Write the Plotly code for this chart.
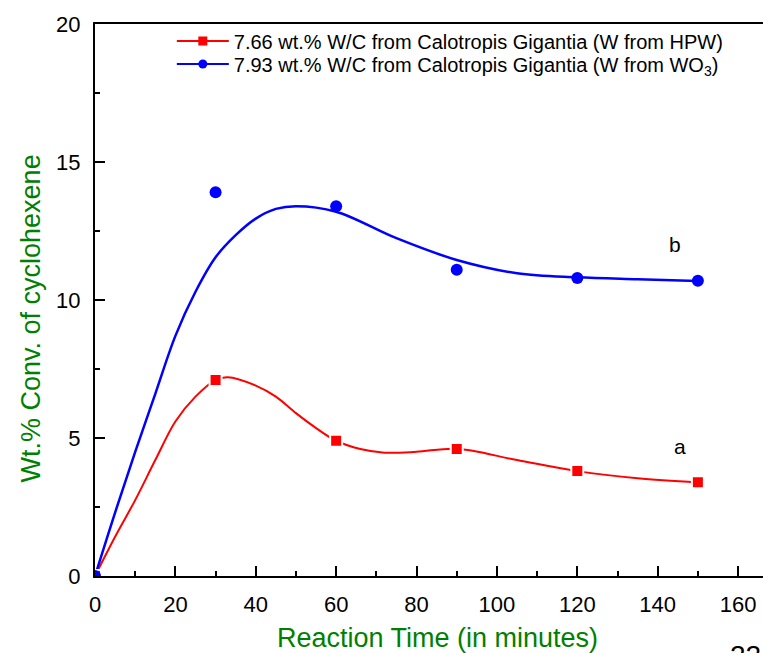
import plotly.graph_objects as go

# Measured points
time_pts = [0, 30, 60, 90, 120, 150]
hpw_conv = [0, 7.1, 4.9, 4.6, 3.8, 3.4]
wo3_conv = [0, 13.9, 13.4, 11.1, 10.8, 10.7]

# Smoothed curves
hpw_fit_t = [0, 5, 10, 15, 20, 25, 30, 33, 40, 45, 50, 55, 60, 66, 72, 80, 90, 105, 120, 135, 150]
hpw_fit_v = [0, 1.42, 2.75, 4.2, 5.6, 6.5, 7.1, 7.2, 6.9, 6.5, 5.9, 5.36, 4.9, 4.6, 4.47, 4.5, 4.61, 4.2, 3.8, 3.54, 3.39]
wo3_fit_t = [0, 5, 10, 15, 20, 25, 30, 35, 40, 45, 50, 60, 75, 90, 105, 120, 135, 150]
wo3_fit_v = [0, 2.3, 4.5, 6.6, 8.7, 10.3, 11.55, 12.35, 12.95, 13.3, 13.4, 13.2, 12.24, 11.45, 10.97, 10.82, 10.75, 10.69]

name_hpw = "7.66 wt.% W/C from Calotropis Gigantia (W from HPW)"
name_wo3 = "7.93 wt.% W/C from Calotropis Gigantia (W from WO<sub>3</sub>)"

# curve labels
label_text = ["a", "b"]
label_t = [145.5, 144.3]
label_v = [4.7, 12.0]

x_title = "Reaction Time (in minutes)"
y_title = "Wt.% Conv. of cyclohexene"

RED = "#ff0000"
BLUE = "#0000ff"
GREEN = "#008000"
FONT = "Arial, Liberation Sans, sans-serif"

fig = go.Figure()
fig.add_trace(go.Scatter(x=hpw_fit_t, y=hpw_fit_v, mode="lines", line=dict(color=RED, width=2, shape="spline", smoothing=1.0), showlegend=False, hoverinfo="skip"))
fig.add_trace(go.Scatter(x=wo3_fit_t, y=wo3_fit_v, mode="lines", line=dict(color=BLUE, width=2.5, shape="spline", smoothing=1.0), showlegend=False, hoverinfo="skip"))
fig.add_trace(go.Scatter(x=time_pts, y=hpw_conv, mode="markers", marker=dict(symbol="square", size=12, color=RED, line=dict(color="white", width=2)), showlegend=False))
fig.add_trace(go.Scatter(x=time_pts, y=wo3_conv, mode="markers", marker=dict(symbol="circle", size=12, color=BLUE), showlegend=False))
# legend entries
fig.add_trace(go.Scatter(x=[None], y=[None], mode="lines+markers", name=name_hpw, legend="legend",
                         line=dict(color=RED, width=2), marker=dict(symbol="square", size=9, color=RED)))
fig.add_trace(go.Scatter(x=[None], y=[None], mode="lines+markers", name=name_wo3, legend="legend2",
                         line=dict(color=BLUE, width=2), marker=dict(symbol="circle", size=9, color=BLUE)))

for t, v, s in zip(label_t, label_v, label_text):
    fig.add_annotation(x=t, y=v, xref="x", yref="y", text=s, showarrow=False,
                       font=dict(family=FONT, size=21, color="black"), xanchor="center", yanchor="middle")
# axis titles
fig.add_annotation(x=0.5127, y=-0.1123, xref="paper", yref="paper", text=x_title, showarrow=False,
                   font=dict(family=FONT, size=27, color=GREEN), xanchor="center", yanchor="middle")
fig.add_annotation(x=-0.0958, y=0.4665, xref="paper", yref="paper", text=y_title, showarrow=False, textangle=-90,
                   font=dict(family=FONT, size=27, color=GREEN), xanchor="center", yanchor="middle")
fig.add_annotation(x=1.0, y=-0.113, xref="paper", yref="paper", text="22", showarrow=False,
                   font=dict(family=FONT, size=28, color="black"), xanchor="right", yanchor="top")

leg_common = dict(xanchor="left", yanchor="middle", bgcolor="rgba(0,0,0,0)",
                  font=dict(family=FONT, size=20, color="black"), itemwidth=52)
fig.update_layout(
    width=763, height=653,
    margin=dict(l=95, r=0, t=24, b=77),
    paper_bgcolor="white", plot_bgcolor="white",
    font=dict(family=FONT, size=20, color="black"),
    legend=dict(x=0.115, y=(576 - 41) / 552, **leg_common),
    legend2=dict(x=0.115, y=(576 - 64) / 552, **leg_common),
    showlegend=True,
)
fig.update_xaxes(
    range=[0, 166.2], showgrid=False, zeroline=False,
    showline=True, linecolor="black", linewidth=2, mirror=True,
    ticks="inside", ticklen=10, tickwidth=1.5, tickcolor="black", dtick=20, tick0=0,
    minor=dict(ticks="inside", ticklen=5, tickwidth=1.5, tickcolor="black", dtick=10),
    tickfont=dict(family=FONT, size=22, color="black"), ticklabelstandoff=8,
)
fig.update_yaxes(
    range=[0, 20], showgrid=False, zeroline=False,
    showline=True, linecolor="black", linewidth=2,
    ticks="inside", ticklen=10, tickwidth=1.5, tickcolor="black", dtick=5, tick0=0,
    minor=dict(ticks="inside", ticklen=5, tickwidth=1.5, tickcolor="black", dtick=2.5),
    tickfont=dict(family=FONT, size=22, color="black"), ticklabelstandoff=8,
)
fig.write_html("out.html")
